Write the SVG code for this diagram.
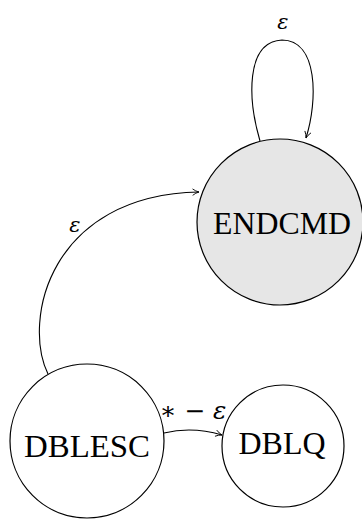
<svg xmlns="http://www.w3.org/2000/svg" width="362" height="520" viewBox="0 0 362 520">
<defs>
<style>
.node{stroke:#000;stroke-width:1.2}
.lbl{font-family:"Liberation Serif","DejaVu Serif",serif;font-size:31px;text-anchor:middle;fill:#000}
.el{font-family:"DejaVu Serif","Liberation Serif",serif;font-style:italic;font-size:21px;text-anchor:middle;fill:#000}
.edge{fill:none;stroke:#000;stroke-width:1.1}
</style>
<marker id="arr" viewBox="0 0 10 10" refX="9" refY="5" markerWidth="8" markerHeight="8" orient="auto" markerUnits="userSpaceOnUse">
<path d="M1,1 Q5,4 9,5 Q5,6 1,9" fill="none" stroke="#000" stroke-width="1.1"/>
</marker>
</defs>
<rect width="362" height="520" fill="#fff"/>
<g id="connectors">
<path class="edge" d="M260,141 C248,100 245,42 282,40 C318,40 318,100 306,138" marker-end="url(#arr)"/>
<text class="el" x="283" y="29">ε</text>
<path class="edge" d="M48,374 C22,320 50,195 199,192" marker-end="url(#arr)"/>
<text class="el" x="75" y="232">ε</text>
<path class="edge" d="M164,433 C185,428 205,430 222,435" marker-end="url(#arr)"/>
<text class="el" x="193" y="419" style="font-style:normal;font-size:24px" textLength="67" lengthAdjust="spacingAndGlyphs">∗ − <tspan style="font-style:italic">ε</tspan></text>
</g>
<g id="ENDCMD">
<circle class="node" cx="280" cy="222" r="83" fill="#e6e6e6"/>
<text class="lbl" x="282" y="234" textLength="138" lengthAdjust="spacingAndGlyphs">ENDCMD</text>
</g>
<g id="DBLESC">
<circle class="node" cx="87" cy="441" r="77" fill="#fff"/>
<text class="lbl" x="87" y="457" textLength="126" lengthAdjust="spacingAndGlyphs">DBLESC</text>
</g>
<g id="DBLQ">
<circle class="node" cx="283" cy="446" r="61" fill="#fff"/>
<text class="lbl" x="282" y="454" textLength="87" lengthAdjust="spacingAndGlyphs">DBLQ</text>
</g>
</svg>
